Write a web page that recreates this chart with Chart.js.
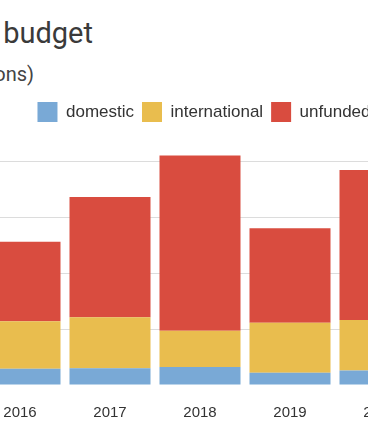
<!DOCTYPE html>
<html>
<head>
<meta charset="utf-8">
<script src="https://cdn.jsdelivr.net/npm/chart.js@4.4.0/dist/chart.umd.min.js"></script>
<style>
  html, body { margin:0; padding:0; background:#fff; overflow:hidden; width:368px; height:445px; }
  #title { position:absolute; right:275px; top:16px; white-space:nowrap; font:29px Roboto, sans-serif; color:#3a3a3a; }
  #sub { position:absolute; right:334px; top:62px; white-space:nowrap; font:20px Roboto, sans-serif; color:#444; }
  #wrap { position:absolute; left:-25px; top:0; width:458px; height:445px; }
</style>
</head>
<body>
<div id="title">Program  budget</div>
<div id="sub">(US$ millions)</div>
<div id="wrap"><canvas id="chart" width="458" height="445"></canvas></div>
<script>
// budget chart - stacked bars
const years = ['2016', '2017', '2018', '2019', '2020'];
const domestic = [14.5, 15, 16, 11, 13];
const international = [42.5, 45.5, 32.5, 44.5, 45];
const unfunded = [71, 107.5, 156.5, 84.5, 134];
const gridStep = 50;

const ctx = document.getElementById('chart').getContext('2d');
new Chart(ctx, {
  type: 'bar',
  data: {
    labels: years,
    datasets: [
      { label: 'domestic', data: domestic, backgroundColor: '#79a9d6' },
      { label: 'international', data: international, backgroundColor: '#e9bd4e' },
      { label: 'unfunded', data: unfunded, backgroundColor: '#d94c3f' }
    ]
  },
  options: {
    responsive: false,
    devicePixelRatio: 1,
    animation: false,
    categoryPercentage: 1,
    barPercentage: 0.9,
    layout: { padding: { top: 94, right: 0, bottom: 4, left: 0 } },
    plugins: {
      legend: {
        position: 'top',
        labels: { boxWidth: 20, boxHeight: 20, padding: 8, color: '#333', font: { family: 'Liberation Sans', size: 17 } }
      },
      tooltip: { enabled: false }
    },
    scales: {
      x: {
        stacked: true,
        grid: { display: false, drawTicks: false },
        border: { display: false },
        ticks: { color: '#333', padding: 19, font: { family: 'Liberation Sans', size: 15 } }
      },
      y: {
        stacked: true,
        position: 'right',
        min: 0, max: 226,
        afterBuildTicks: s => { s.ticks = s.ticks.filter(t => t.value % gridStep === 0); },
        afterFit: s => { s.width = 8; },
        grid: { drawTicks: false, color: c => c.tick && c.tick.value === 0 ? 'rgba(0,0,0,0)' : '#dcdcdc' },
        border: { display: false },
        ticks: { display: false, stepSize: gridStep }
      }
    }
  }
});
</script>
</body>
</html>
